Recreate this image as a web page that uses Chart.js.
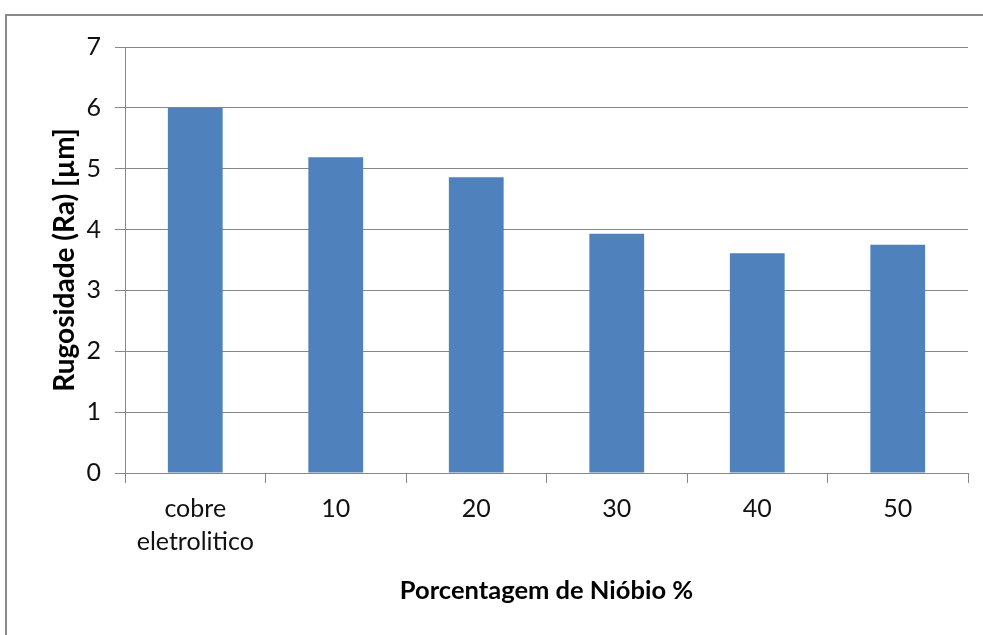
<!DOCTYPE html>
<html>
<head>
<meta charset="utf-8">
<script src="https://cdn.jsdelivr.net/npm/chart.js@4"></script>
<style>
  html, body { margin: 0; padding: 0; background: #fff; }
  .wrap { position: relative; width: 983px; height: 635px; overflow: hidden; }
  .frame { position: absolute; left: 5px; top: 14px; width: 1000px; height: 700px;
           border-top: 2px solid #8a8a8a; border-left: 2px solid #8a8a8a; }
  canvas { position: absolute; left: 0; top: 0; }
</style>
</head>
<body>
<div class="wrap">
  <div class="frame"></div>
  <canvas id="myChart" width="983" height="635"></canvas>
</div>
<script>
const categories = [['cobre', 'eletrolitico'], '10', '20', '30', '40', '50'];
const rugosidade = [6.0, 5.19, 4.86, 3.93, 3.61, 3.75];
const yMin = 0;
const yMax = 7;
const yStep = 1;

const gridColor = '#878787';
const fontFamily = 'Lato, "Liberation Sans", sans-serif';
const tickFont = { family: fontFamily, size: 25, lineHeight: 1.3 };

const ctx = document.getElementById('myChart');
new Chart(ctx, {
  type: 'bar',
  data: {
    labels: categories,
    datasets: [{
      label: 'Rugosidade (Ra) [µm]',
      data: rugosidade,
      backgroundColor: '#4F81BD',
      borderWidth: 0,
      barPercentage: 0.39,
      categoryPercentage: 1
    }]
  },
  options: {
    responsive: false,
    animation: false,
    layout: { padding: { top: 47, right: 15, bottom: 0, left: 0 } },
    plugins: {
      legend: { display: false },
      tooltip: { enabled: false }
    },
    scales: {
      x: {
        offset: true,
        grid: { display: true, drawOnChartArea: false, drawTicks: true, tickLength: 10, color: gridColor, offset: true },
        border: { display: true, color: gridColor },
        ticks: { color: '#111', font: tickFont, padding: 10, maxRotation: 0, autoSkip: false },
        title: {
          display: true,
          text: 'Porcentagem de Nióbio %',
          color: '#000',
          font: { family: fontFamily, size: 25.5, weight: 'bold', lineHeight: 1.2 },
          padding: { top: 0, bottom: 29 }
        },
        afterFit: (scale) => { scale.height = 162; }
      },
      y: {
        min: yMin,
        max: yMax,
        grid: { color: gridColor, tickLength: 10, drawTicks: true },
        border: { display: true, color: gridColor },
        ticks: { stepSize: yStep, color: '#111', font: tickFont, padding: 14 },
        title: {
          display: true,
          text: 'Rugosidade (Ra) [µm]',
          color: '#000',
          font: { family: fontFamily, size: 28, weight: 'bold', lineHeight: 1.2 },
          padding: { top: 48, bottom: 0 }
        },
        afterFit: (scale) => { scale.width = 125; }
      }
    }
  }
});
</script>
</body>
</html>
